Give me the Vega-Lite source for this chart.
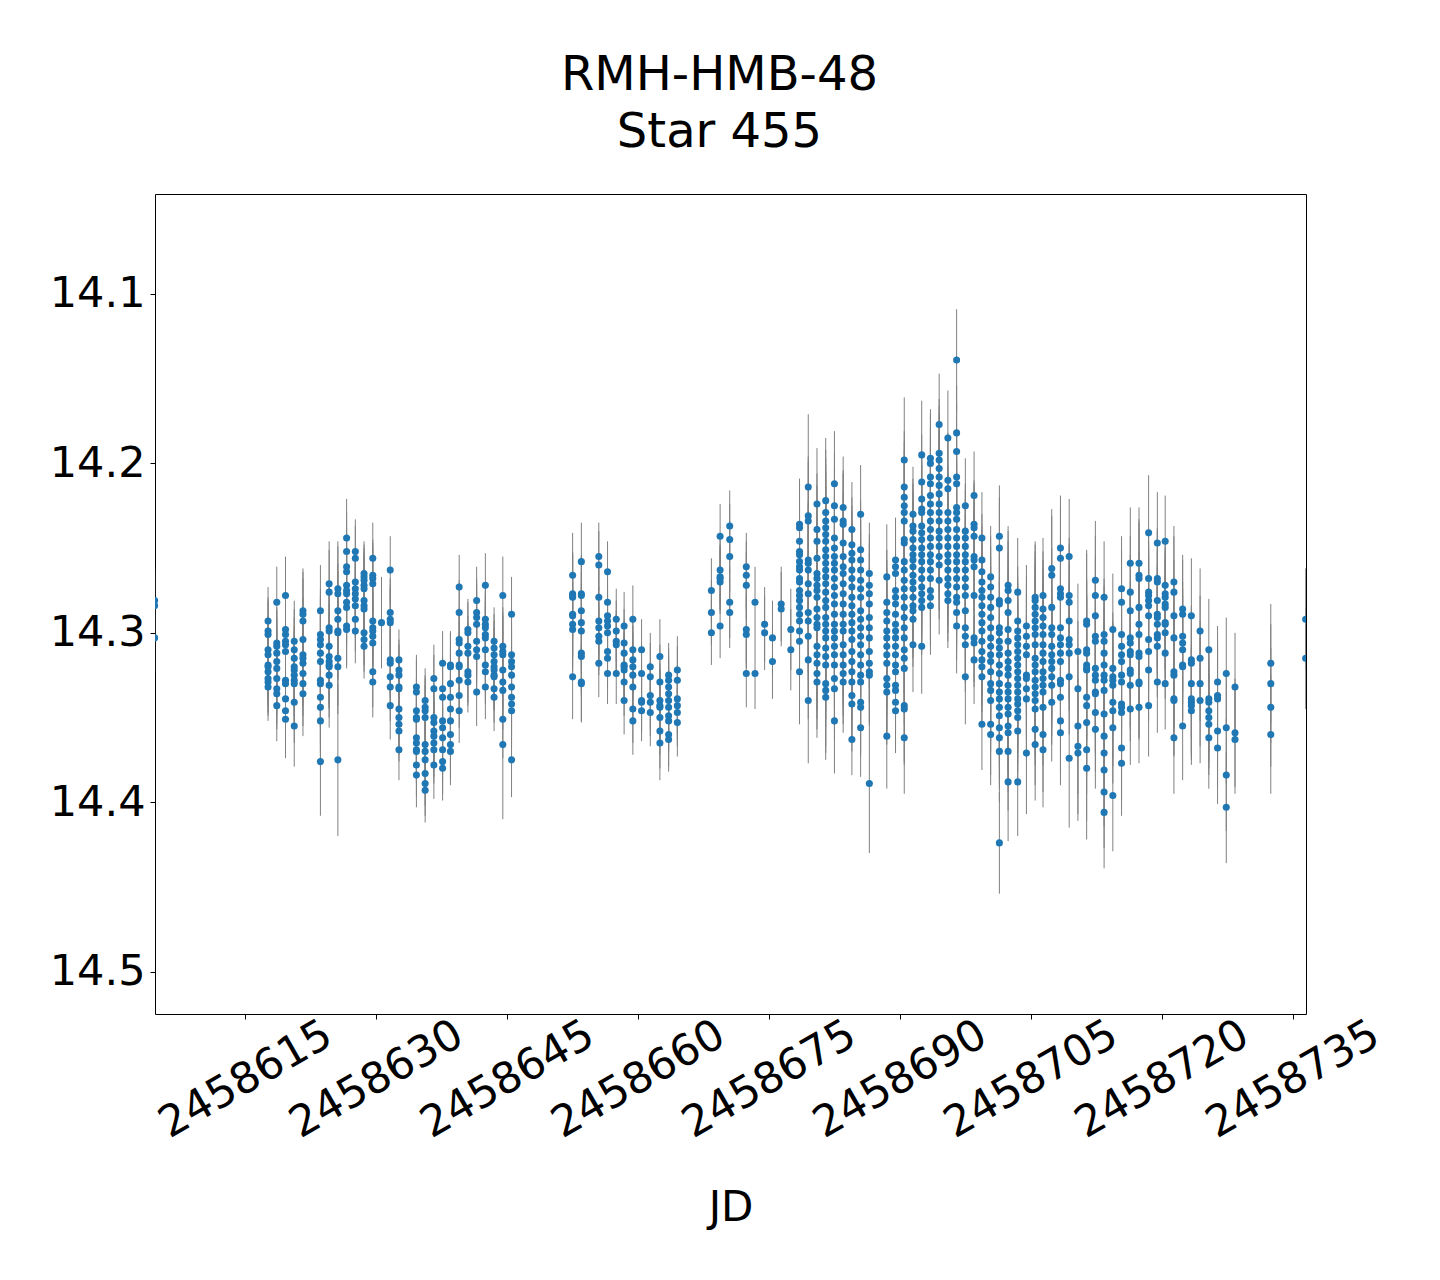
{
"$schema":"https://vega.github.io/schema/vega-lite/v6.json",
"width":1151,"height":820,
"autosize":{"type":"none"},
"padding":{"left":155,"top":194,"right":134,"bottom":266},
"background":"white",
"title":{"text":["RMH-HMB-48","Star 455"],"fontSize":48,"font":"DejaVu Sans","fontWeight":"normal","color":"black","anchor":"middle","frame":"group","dx":-11,"offset":-11,"baseline":"bottom","lineHeight":57},
"config":{"view":{"stroke":"black","strokeWidth":1},"axis":{"grid":false,"domain":false,"tickColor":"black","tickSize":5,"tickWidth":1,"labelColor":"black","labelFont":"DejaVu Sans","titleFont":"DejaVu Sans","labelFontSize":43,"titleFontSize":42,"titleFontWeight":"normal","titleColor":"black","labelLimit":500}},
"data":{"values":[
{"jd":2458604.6,"m":14.281,"e":0.02},{"jd":2458604.6,"m":14.284,"e":0.02},{"jd":2458604.6,"m":14.303,"e":0.02},
{"jd":2458617.6,"m":14.293,"e":0.02},{"jd":2458617.6,"m":14.299,"e":0.02},{"jd":2458617.6,"m":14.301,"e":0.02},{"jd":2458617.6,"m":14.31,"e":0.02},{"jd":2458617.6,"m":14.313,"e":0.02},{"jd":2458617.6,"m":14.319,"e":0.02},{"jd":2458617.6,"m":14.32,"e":0.02},{"jd":2458617.6,"m":14.323,"e":0.02},{"jd":2458617.6,"m":14.327,"e":0.02},{"jd":2458617.6,"m":14.329,"e":0.02},{"jd":2458617.6,"m":14.332,"e":0.02},
{"jd":2458618.6,"m":14.282,"e":0.021},{"jd":2458618.6,"m":14.306,"e":0.021},{"jd":2458618.6,"m":14.308,"e":0.021},{"jd":2458618.6,"m":14.312,"e":0.021},{"jd":2458618.6,"m":14.317,"e":0.021},{"jd":2458618.6,"m":14.321,"e":0.021},{"jd":2458618.6,"m":14.327,"e":0.021},{"jd":2458618.6,"m":14.333,"e":0.021},{"jd":2458618.6,"m":14.336,"e":0.021},{"jd":2458618.6,"m":14.343,"e":0.021},
{"jd":2458619.6,"m":14.278,"e":0.023},{"jd":2458619.6,"m":14.298,"e":0.023},{"jd":2458619.6,"m":14.301,"e":0.023},{"jd":2458619.6,"m":14.305,"e":0.023},{"jd":2458619.6,"m":14.307,"e":0.023},{"jd":2458619.6,"m":14.311,"e":0.023},{"jd":2458619.6,"m":14.328,"e":0.023},{"jd":2458619.6,"m":14.33,"e":0.023},{"jd":2458619.6,"m":14.339,"e":0.023},{"jd":2458619.6,"m":14.346,"e":0.023},{"jd":2458619.6,"m":14.351,"e":0.023},
{"jd":2458620.6,"m":14.305,"e":0.024},{"jd":2458620.6,"m":14.31,"e":0.024},{"jd":2458620.6,"m":14.315,"e":0.024},{"jd":2458620.6,"m":14.32,"e":0.024},{"jd":2458620.6,"m":14.322,"e":0.024},{"jd":2458620.6,"m":14.325,"e":0.024},{"jd":2458620.6,"m":14.328,"e":0.024},{"jd":2458620.6,"m":14.33,"e":0.024},{"jd":2458620.6,"m":14.341,"e":0.024},{"jd":2458620.6,"m":14.355,"e":0.024},
{"jd":2458621.6,"m":14.287,"e":0.025},{"jd":2458621.6,"m":14.289,"e":0.025},{"jd":2458621.6,"m":14.293,"e":0.025},{"jd":2458621.6,"m":14.304,"e":0.025},{"jd":2458621.6,"m":14.313,"e":0.025},{"jd":2458621.6,"m":14.315,"e":0.025},{"jd":2458621.6,"m":14.318,"e":0.025},{"jd":2458621.6,"m":14.324,"e":0.025},{"jd":2458621.6,"m":14.33,"e":0.025},{"jd":2458621.6,"m":14.336,"e":0.025},
{"jd":2458623.6,"m":14.287,"e":0.027},{"jd":2458623.6,"m":14.301,"e":0.027},{"jd":2458623.6,"m":14.304,"e":0.027},{"jd":2458623.6,"m":14.307,"e":0.027},{"jd":2458623.6,"m":14.312,"e":0.027},{"jd":2458623.6,"m":14.317,"e":0.027},{"jd":2458623.6,"m":14.328,"e":0.027},{"jd":2458623.6,"m":14.33,"e":0.027},{"jd":2458623.6,"m":14.338,"e":0.027},{"jd":2458623.6,"m":14.344,"e":0.027},{"jd":2458623.6,"m":14.352,"e":0.027},{"jd":2458623.6,"m":14.376,"e":0.032},
{"jd":2458624.6,"m":14.271,"e":0.025},{"jd":2458624.6,"m":14.276,"e":0.025},{"jd":2458624.6,"m":14.297,"e":0.025},{"jd":2458624.6,"m":14.299,"e":0.025},{"jd":2458624.6,"m":14.308,"e":0.025},{"jd":2458624.6,"m":14.314,"e":0.025},{"jd":2458624.6,"m":14.317,"e":0.025},{"jd":2458624.6,"m":14.319,"e":0.025},{"jd":2458624.6,"m":14.32,"e":0.025},{"jd":2458624.6,"m":14.325,"e":0.025},{"jd":2458624.6,"m":14.331,"e":0.025},
{"jd":2458625.6,"m":14.274,"e":0.028},{"jd":2458625.6,"m":14.277,"e":0.028},{"jd":2458625.6,"m":14.287,"e":0.028},{"jd":2458625.6,"m":14.292,"e":0.028},{"jd":2458625.6,"m":14.299,"e":0.028},{"jd":2458625.6,"m":14.3,"e":0.028},{"jd":2458625.6,"m":14.315,"e":0.028},{"jd":2458625.6,"m":14.32,"e":0.028},{"jd":2458625.6,"m":14.375,"e":0.045},
{"jd":2458626.6,"m":14.244,"e":0.023},{"jd":2458626.6,"m":14.252,"e":0.023},{"jd":2458626.6,"m":14.261,"e":0.023},{"jd":2458626.6,"m":14.264,"e":0.023},{"jd":2458626.6,"m":14.272,"e":0.023},{"jd":2458626.6,"m":14.275,"e":0.023},{"jd":2458626.6,"m":14.277,"e":0.023},{"jd":2458626.6,"m":14.282,"e":0.023},{"jd":2458626.6,"m":14.285,"e":0.023},{"jd":2458626.6,"m":14.296,"e":0.023},{"jd":2458626.6,"m":14.298,"e":0.023},
{"jd":2458627.6,"m":14.252,"e":0.019},{"jd":2458627.6,"m":14.256,"e":0.019},{"jd":2458627.6,"m":14.27,"e":0.019},{"jd":2458627.6,"m":14.274,"e":0.019},{"jd":2458627.6,"m":14.277,"e":0.019},{"jd":2458627.6,"m":14.28,"e":0.019},{"jd":2458627.6,"m":14.284,"e":0.019},{"jd":2458627.6,"m":14.292,"e":0.019},{"jd":2458627.6,"m":14.299,"e":0.019},
{"jd":2458628.6,"m":14.265,"e":0.019},{"jd":2458628.6,"m":14.267,"e":0.019},{"jd":2458628.6,"m":14.269,"e":0.019},{"jd":2458628.6,"m":14.272,"e":0.019},{"jd":2458628.6,"m":14.274,"e":0.019},{"jd":2458628.6,"m":14.281,"e":0.019},{"jd":2458628.6,"m":14.284,"e":0.019},{"jd":2458628.6,"m":14.286,"e":0.019},{"jd":2458628.6,"m":14.3,"e":0.019},{"jd":2458628.6,"m":14.304,"e":0.019},{"jd":2458628.6,"m":14.308,"e":0.019},
{"jd":2458629.6,"m":14.256,"e":0.021},{"jd":2458629.6,"m":14.266,"e":0.021},{"jd":2458629.6,"m":14.268,"e":0.021},{"jd":2458629.6,"m":14.271,"e":0.021},{"jd":2458629.6,"m":14.293,"e":0.021},{"jd":2458629.6,"m":14.297,"e":0.021},{"jd":2458629.6,"m":14.299,"e":0.021},{"jd":2458629.6,"m":14.302,"e":0.021},{"jd":2458629.6,"m":14.306,"e":0.021},{"jd":2458629.6,"m":14.323,"e":0.021},{"jd":2458629.6,"m":14.329,"e":0.021},
{"jd":2458630.6,"m":14.294,"e":0.027},
{"jd":2458631.6,"m":14.263,"e":0.02},{"jd":2458631.6,"m":14.288,"e":0.02},{"jd":2458631.6,"m":14.292,"e":0.02},{"jd":2458631.6,"m":14.294,"e":0.02},{"jd":2458631.6,"m":14.316,"e":0.02},{"jd":2458631.6,"m":14.318,"e":0.02},{"jd":2458631.6,"m":14.326,"e":0.02},{"jd":2458631.6,"m":14.332,"e":0.02},{"jd":2458631.6,"m":14.343,"e":0.02},
{"jd":2458632.6,"m":14.316,"e":0.018},{"jd":2458632.6,"m":14.322,"e":0.018},{"jd":2458632.6,"m":14.325,"e":0.018},{"jd":2458632.6,"m":14.332,"e":0.018},{"jd":2458632.6,"m":14.333,"e":0.018},{"jd":2458632.6,"m":14.345,"e":0.018},{"jd":2458632.6,"m":14.35,"e":0.018},{"jd":2458632.6,"m":14.354,"e":0.018},{"jd":2458632.6,"m":14.358,"e":0.018},{"jd":2458632.6,"m":14.369,"e":0.018},
{"jd":2458634.6,"m":14.332,"e":0.019},{"jd":2458634.6,"m":14.335,"e":0.019},{"jd":2458634.6,"m":14.346,"e":0.019},{"jd":2458634.6,"m":14.35,"e":0.019},{"jd":2458634.6,"m":14.351,"e":0.019},{"jd":2458634.6,"m":14.362,"e":0.019},{"jd":2458634.6,"m":14.365,"e":0.019},{"jd":2458634.6,"m":14.369,"e":0.019},{"jd":2458634.6,"m":14.37,"e":0.019},{"jd":2458634.6,"m":14.378,"e":0.019},{"jd":2458634.6,"m":14.384,"e":0.019},
{"jd":2458635.6,"m":14.34,"e":0.019},{"jd":2458635.6,"m":14.344,"e":0.019},{"jd":2458635.6,"m":14.346,"e":0.019},{"jd":2458635.6,"m":14.35,"e":0.019},{"jd":2458635.6,"m":14.366,"e":0.019},{"jd":2458635.6,"m":14.37,"e":0.019},{"jd":2458635.6,"m":14.375,"e":0.019},{"jd":2458635.6,"m":14.383,"e":0.019},{"jd":2458635.6,"m":14.389,"e":0.019},{"jd":2458635.6,"m":14.393,"e":0.019},
{"jd":2458636.6,"m":14.327,"e":0.02},{"jd":2458636.6,"m":14.333,"e":0.02},{"jd":2458636.6,"m":14.35,"e":0.02},{"jd":2458636.6,"m":14.353,"e":0.02},{"jd":2458636.6,"m":14.358,"e":0.02},{"jd":2458636.6,"m":14.361,"e":0.02},{"jd":2458636.6,"m":14.365,"e":0.02},{"jd":2458636.6,"m":14.369,"e":0.02},{"jd":2458636.6,"m":14.378,"e":0.02},
{"jd":2458637.6,"m":14.318,"e":0.019},{"jd":2458637.6,"m":14.333,"e":0.019},{"jd":2458637.6,"m":14.338,"e":0.019},{"jd":2458637.6,"m":14.352,"e":0.019},{"jd":2458637.6,"m":14.356,"e":0.019},{"jd":2458637.6,"m":14.362,"e":0.019},{"jd":2458637.6,"m":14.369,"e":0.019},{"jd":2458637.6,"m":14.376,"e":0.019},{"jd":2458637.6,"m":14.38,"e":0.019},
{"jd":2458638.5,"m":14.319,"e":0.02},{"jd":2458638.5,"m":14.32,"e":0.02},{"jd":2458638.5,"m":14.33,"e":0.02},{"jd":2458638.5,"m":14.338,"e":0.02},{"jd":2458638.5,"m":14.345,"e":0.02},{"jd":2458638.5,"m":14.352,"e":0.02},{"jd":2458638.5,"m":14.36,"e":0.02},{"jd":2458638.5,"m":14.366,"e":0.02},{"jd":2458638.5,"m":14.37,"e":0.02},
{"jd":2458639.5,"m":14.273,"e":0.019},{"jd":2458639.5,"m":14.288,"e":0.019},{"jd":2458639.5,"m":14.304,"e":0.019},{"jd":2458639.5,"m":14.306,"e":0.019},{"jd":2458639.5,"m":14.312,"e":0.019},{"jd":2458639.5,"m":14.319,"e":0.019},{"jd":2458639.5,"m":14.32,"e":0.019},{"jd":2458639.5,"m":14.328,"e":0.019},{"jd":2458639.5,"m":14.337,"e":0.019},{"jd":2458639.5,"m":14.346,"e":0.019},
{"jd":2458640.5,"m":14.298,"e":0.018},{"jd":2458640.5,"m":14.3,"e":0.018},{"jd":2458640.5,"m":14.308,"e":0.018},{"jd":2458640.5,"m":14.312,"e":0.018},{"jd":2458640.5,"m":14.323,"e":0.018},{"jd":2458640.5,"m":14.325,"e":0.018},{"jd":2458640.5,"m":14.329,"e":0.018},
{"jd":2458641.5,"m":14.281,"e":0.02},{"jd":2458641.5,"m":14.288,"e":0.02},{"jd":2458641.5,"m":14.291,"e":0.02},{"jd":2458641.5,"m":14.295,"e":0.02},{"jd":2458641.5,"m":14.305,"e":0.02},{"jd":2458641.5,"m":14.31,"e":0.02},{"jd":2458641.5,"m":14.314,"e":0.02},{"jd":2458641.5,"m":14.335,"e":0.02},
{"jd":2458642.5,"m":14.272,"e":0.019},{"jd":2458642.5,"m":14.292,"e":0.019},{"jd":2458642.5,"m":14.295,"e":0.019},{"jd":2458642.5,"m":14.297,"e":0.019},{"jd":2458642.5,"m":14.301,"e":0.019},{"jd":2458642.5,"m":14.303,"e":0.019},{"jd":2458642.5,"m":14.31,"e":0.019},{"jd":2458642.5,"m":14.319,"e":0.019},{"jd":2458642.5,"m":14.323,"e":0.019},{"jd":2458642.5,"m":14.332,"e":0.019},
{"jd":2458643.5,"m":14.305,"e":0.02},{"jd":2458643.5,"m":14.309,"e":0.02},{"jd":2458643.5,"m":14.313,"e":0.02},{"jd":2458643.5,"m":14.317,"e":0.02},{"jd":2458643.5,"m":14.32,"e":0.02},{"jd":2458643.5,"m":14.322,"e":0.02},{"jd":2458643.5,"m":14.325,"e":0.02},{"jd":2458643.5,"m":14.326,"e":0.02},{"jd":2458643.5,"m":14.333,"e":0.02},{"jd":2458643.5,"m":14.338,"e":0.02},
{"jd":2458644.5,"m":14.278,"e":0.023},{"jd":2458644.5,"m":14.308,"e":0.023},{"jd":2458644.5,"m":14.311,"e":0.023},{"jd":2458644.5,"m":14.313,"e":0.023},{"jd":2458644.5,"m":14.322,"e":0.023},{"jd":2458644.5,"m":14.329,"e":0.023},{"jd":2458644.5,"m":14.334,"e":0.023},{"jd":2458644.5,"m":14.351,"e":0.023},{"jd":2458644.5,"m":14.366,"e":0.044},
{"jd":2458645.5,"m":14.289,"e":0.022},{"jd":2458645.5,"m":14.313,"e":0.022},{"jd":2458645.5,"m":14.317,"e":0.022},{"jd":2458645.5,"m":14.32,"e":0.022},{"jd":2458645.5,"m":14.325,"e":0.022},{"jd":2458645.5,"m":14.332,"e":0.022},{"jd":2458645.5,"m":14.338,"e":0.022},{"jd":2458645.5,"m":14.342,"e":0.022},{"jd":2458645.5,"m":14.346,"e":0.022},{"jd":2458645.5,"m":14.375,"e":0.022},
{"jd":2458652.5,"m":14.266,"e":0.025},{"jd":2458652.5,"m":14.277,"e":0.025},{"jd":2458652.5,"m":14.278,"e":0.025},{"jd":2458652.5,"m":14.279,"e":0.025},{"jd":2458652.5,"m":14.289,"e":0.025},{"jd":2458652.5,"m":14.29,"e":0.025},{"jd":2458652.5,"m":14.295,"e":0.025},{"jd":2458652.5,"m":14.298,"e":0.025},{"jd":2458652.5,"m":14.326,"e":0.025},
{"jd":2458653.5,"m":14.258,"e":0.023},{"jd":2458653.5,"m":14.277,"e":0.023},{"jd":2458653.5,"m":14.278,"e":0.023},{"jd":2458653.5,"m":14.287,"e":0.023},{"jd":2458653.5,"m":14.294,"e":0.023},{"jd":2458653.5,"m":14.299,"e":0.023},{"jd":2458653.5,"m":14.312,"e":0.023},{"jd":2458653.5,"m":14.314,"e":0.023},{"jd":2458653.5,"m":14.329,"e":0.023},{"jd":2458653.5,"m":14.33,"e":0.023},
{"jd":2458655.5,"m":14.255,"e":0.02},{"jd":2458655.5,"m":14.26,"e":0.02},{"jd":2458655.5,"m":14.279,"e":0.02},{"jd":2458655.5,"m":14.293,"e":0.02},{"jd":2458655.5,"m":14.297,"e":0.02},{"jd":2458655.5,"m":14.302,"e":0.02},{"jd":2458655.5,"m":14.305,"e":0.02},{"jd":2458655.5,"m":14.318,"e":0.02},
{"jd":2458656.5,"m":14.264,"e":0.018},{"jd":2458656.5,"m":14.282,"e":0.018},{"jd":2458656.5,"m":14.29,"e":0.018},{"jd":2458656.5,"m":14.293,"e":0.018},{"jd":2458656.5,"m":14.296,"e":0.018},{"jd":2458656.5,"m":14.3,"e":0.018},{"jd":2458656.5,"m":14.311,"e":0.018},{"jd":2458656.5,"m":14.315,"e":0.018},{"jd":2458656.5,"m":14.324,"e":0.018},
{"jd":2458657.5,"m":14.292,"e":0.018},{"jd":2458657.5,"m":14.299,"e":0.018},{"jd":2458657.5,"m":14.305,"e":0.018},{"jd":2458657.5,"m":14.307,"e":0.018},{"jd":2458657.5,"m":14.324,"e":0.018},
{"jd":2458658.4,"m":14.296,"e":0.02},{"jd":2458658.4,"m":14.306,"e":0.02},{"jd":2458658.4,"m":14.312,"e":0.02},{"jd":2458658.4,"m":14.319,"e":0.02},{"jd":2458658.4,"m":14.32,"e":0.02},{"jd":2458658.4,"m":14.322,"e":0.02},{"jd":2458658.4,"m":14.329,"e":0.02},{"jd":2458658.4,"m":14.34,"e":0.02},
{"jd":2458659.4,"m":14.292,"e":0.02},{"jd":2458659.4,"m":14.31,"e":0.02},{"jd":2458659.4,"m":14.316,"e":0.02},{"jd":2458659.4,"m":14.32,"e":0.02},{"jd":2458659.4,"m":14.325,"e":0.02},{"jd":2458659.4,"m":14.332,"e":0.02},{"jd":2458659.4,"m":14.345,"e":0.02},{"jd":2458659.4,"m":14.352,"e":0.02},
{"jd":2458660.4,"m":14.31,"e":0.018},{"jd":2458660.4,"m":14.324,"e":0.018},{"jd":2458660.4,"m":14.34,"e":0.018},{"jd":2458660.4,"m":14.341,"e":0.018},{"jd":2458660.4,"m":14.346,"e":0.018},
{"jd":2458661.4,"m":14.32,"e":0.02},{"jd":2458661.4,"m":14.326,"e":0.02},{"jd":2458661.4,"m":14.337,"e":0.02},{"jd":2458661.4,"m":14.341,"e":0.02},{"jd":2458661.4,"m":14.347,"e":0.02},
{"jd":2458662.5,"m":14.314,"e":0.022},{"jd":2458662.5,"m":14.329,"e":0.022},{"jd":2458662.5,"m":14.34,"e":0.022},{"jd":2458662.5,"m":14.343,"e":0.022},{"jd":2458662.5,"m":14.344,"e":0.022},{"jd":2458662.5,"m":14.35,"e":0.022},{"jd":2458662.5,"m":14.358,"e":0.022},{"jd":2458662.5,"m":14.365,"e":0.022},
{"jd":2458663.5,"m":14.325,"e":0.019},{"jd":2458663.5,"m":14.328,"e":0.019},{"jd":2458663.5,"m":14.332,"e":0.019},{"jd":2458663.5,"m":14.336,"e":0.019},{"jd":2458663.5,"m":14.34,"e":0.019},{"jd":2458663.5,"m":14.344,"e":0.019},{"jd":2458663.5,"m":14.349,"e":0.019},{"jd":2458663.5,"m":14.352,"e":0.019},{"jd":2458663.5,"m":14.36,"e":0.019},{"jd":2458663.5,"m":14.363,"e":0.019},
{"jd":2458664.5,"m":14.322,"e":0.02},{"jd":2458664.5,"m":14.328,"e":0.02},{"jd":2458664.5,"m":14.339,"e":0.02},{"jd":2458664.5,"m":14.343,"e":0.02},{"jd":2458664.5,"m":14.347,"e":0.02},{"jd":2458664.5,"m":14.353,"e":0.02},
{"jd":2458668.4,"m":14.275,"e":0.019},{"jd":2458668.4,"m":14.288,"e":0.019},{"jd":2458668.4,"m":14.3,"e":0.019},
{"jd":2458669.4,"m":14.243,"e":0.019},{"jd":2458669.4,"m":14.263,"e":0.019},{"jd":2458669.4,"m":14.267,"e":0.019},{"jd":2458669.4,"m":14.268,"e":0.019},{"jd":2458669.4,"m":14.27,"e":0.019},{"jd":2458669.4,"m":14.296,"e":0.019},
{"jd":2458670.5,"m":14.237,"e":0.021},{"jd":2458670.5,"m":14.245,"e":0.021},{"jd":2458670.5,"m":14.255,"e":0.021},{"jd":2458670.5,"m":14.282,"e":0.021},{"jd":2458670.5,"m":14.288,"e":0.021},
{"jd":2458672.4,"m":14.261,"e":0.02},{"jd":2458672.4,"m":14.266,"e":0.02},{"jd":2458672.4,"m":14.272,"e":0.02},{"jd":2458672.4,"m":14.298,"e":0.02},{"jd":2458672.4,"m":14.301,"e":0.02},{"jd":2458672.4,"m":14.324,"e":0.02},
{"jd":2458673.4,"m":14.282,"e":0.021},{"jd":2458673.4,"m":14.324,"e":0.021},
{"jd":2458674.5,"m":14.295,"e":0.022},{"jd":2458674.5,"m":14.3,"e":0.022},
{"jd":2458675.4,"m":14.303,"e":0.022},{"jd":2458675.4,"m":14.317,"e":0.022},
{"jd":2458676.4,"m":14.283,"e":0.022},{"jd":2458676.4,"m":14.286,"e":0.022},
{"jd":2458677.5,"m":14.298,"e":0.024},{"jd":2458677.5,"m":14.31,"e":0.024},
{"jd":2458678.5,"m":14.236,"e":0.027},{"jd":2458678.5,"m":14.238,"e":0.027},{"jd":2458678.5,"m":14.246,"e":0.027},{"jd":2458678.5,"m":14.252,"e":0.027},{"jd":2458678.5,"m":14.254,"e":0.027},{"jd":2458678.5,"m":14.258,"e":0.027},{"jd":2458678.5,"m":14.261,"e":0.027},{"jd":2458678.5,"m":14.263,"e":0.027},{"jd":2458678.5,"m":14.268,"e":0.027},{"jd":2458678.5,"m":14.27,"e":0.027},{"jd":2458678.5,"m":14.275,"e":0.027},{"jd":2458678.5,"m":14.278,"e":0.027},{"jd":2458678.5,"m":14.281,"e":0.027},{"jd":2458678.5,"m":14.285,"e":0.027},{"jd":2458678.5,"m":14.289,"e":0.027},{"jd":2458678.5,"m":14.293,"e":0.027},{"jd":2458678.5,"m":14.299,"e":0.027},{"jd":2458678.5,"m":14.305,"e":0.027},{"jd":2458678.5,"m":14.323,"e":0.031},
{"jd":2458679.5,"m":14.214,"e":0.043},{"jd":2458679.5,"m":14.231,"e":0.035},{"jd":2458679.5,"m":14.234,"e":0.035},{"jd":2458679.5,"m":14.257,"e":0.035},{"jd":2458679.5,"m":14.259,"e":0.035},{"jd":2458679.5,"m":14.263,"e":0.035},{"jd":2458679.5,"m":14.271,"e":0.035},{"jd":2458679.5,"m":14.277,"e":0.035},{"jd":2458679.5,"m":14.288,"e":0.035},{"jd":2458679.5,"m":14.293,"e":0.035},{"jd":2458679.5,"m":14.302,"e":0.035},{"jd":2458679.5,"m":14.316,"e":0.035},{"jd":2458679.5,"m":14.34,"e":0.037},
{"jd":2458680.5,"m":14.224,"e":0.033},{"jd":2458680.5,"m":14.239,"e":0.033},{"jd":2458680.5,"m":14.246,"e":0.033},{"jd":2458680.5,"m":14.256,"e":0.033},{"jd":2458680.5,"m":14.265,"e":0.033},{"jd":2458680.5,"m":14.268,"e":0.033},{"jd":2458680.5,"m":14.272,"e":0.033},{"jd":2458680.5,"m":14.275,"e":0.033},{"jd":2458680.5,"m":14.279,"e":0.033},{"jd":2458680.5,"m":14.286,"e":0.033},{"jd":2458680.5,"m":14.291,"e":0.033},{"jd":2458680.5,"m":14.295,"e":0.033},{"jd":2458680.5,"m":14.297,"e":0.033},{"jd":2458680.5,"m":14.308,"e":0.033},{"jd":2458680.5,"m":14.313,"e":0.033},{"jd":2458680.5,"m":14.318,"e":0.033},{"jd":2458680.5,"m":14.324,"e":0.033},{"jd":2458680.5,"m":14.329,"e":0.033},
{"jd":2458681.5,"m":14.222,"e":0.037},{"jd":2458681.5,"m":14.229,"e":0.037},{"jd":2458681.5,"m":14.234,"e":0.037},{"jd":2458681.5,"m":14.238,"e":0.037},{"jd":2458681.5,"m":14.242,"e":0.037},{"jd":2458681.5,"m":14.246,"e":0.037},{"jd":2458681.5,"m":14.251,"e":0.037},{"jd":2458681.5,"m":14.255,"e":0.037},{"jd":2458681.5,"m":14.259,"e":0.037},{"jd":2458681.5,"m":14.263,"e":0.037},{"jd":2458681.5,"m":14.267,"e":0.037},{"jd":2458681.5,"m":14.271,"e":0.037},{"jd":2458681.5,"m":14.276,"e":0.037},{"jd":2458681.5,"m":14.281,"e":0.037},{"jd":2458681.5,"m":14.285,"e":0.037},{"jd":2458681.5,"m":14.291,"e":0.037},{"jd":2458681.5,"m":14.295,"e":0.037},{"jd":2458681.5,"m":14.299,"e":0.037},{"jd":2458681.5,"m":14.303,"e":0.037},{"jd":2458681.5,"m":14.309,"e":0.037},{"jd":2458681.5,"m":14.314,"e":0.037},{"jd":2458681.5,"m":14.319,"e":0.037},{"jd":2458681.5,"m":14.33,"e":0.037},{"jd":2458681.5,"m":14.334,"e":0.037},{"jd":2458681.5,"m":14.338,"e":0.037},
{"jd":2458682.5,"m":14.212,"e":0.031},{"jd":2458682.5,"m":14.225,"e":0.031},{"jd":2458682.5,"m":14.233,"e":0.031},{"jd":2458682.5,"m":14.244,"e":0.031},{"jd":2458682.5,"m":14.25,"e":0.031},{"jd":2458682.5,"m":14.255,"e":0.031},{"jd":2458682.5,"m":14.259,"e":0.031},{"jd":2458682.5,"m":14.263,"e":0.031},{"jd":2458682.5,"m":14.268,"e":0.031},{"jd":2458682.5,"m":14.273,"e":0.031},{"jd":2458682.5,"m":14.278,"e":0.031},{"jd":2458682.5,"m":14.283,"e":0.031},{"jd":2458682.5,"m":14.289,"e":0.031},{"jd":2458682.5,"m":14.295,"e":0.031},{"jd":2458682.5,"m":14.299,"e":0.031},{"jd":2458682.5,"m":14.303,"e":0.031},{"jd":2458682.5,"m":14.308,"e":0.031},{"jd":2458682.5,"m":14.313,"e":0.031},{"jd":2458682.5,"m":14.319,"e":0.031},{"jd":2458682.5,"m":14.327,"e":0.031},{"jd":2458682.5,"m":14.333,"e":0.031},{"jd":2458682.5,"m":14.352,"e":0.031},
{"jd":2458683.5,"m":14.226,"e":0.03},{"jd":2458683.5,"m":14.234,"e":0.03},{"jd":2458683.5,"m":14.236,"e":0.03},{"jd":2458683.5,"m":14.247,"e":0.03},{"jd":2458683.5,"m":14.255,"e":0.03},{"jd":2458683.5,"m":14.261,"e":0.03},{"jd":2458683.5,"m":14.265,"e":0.03},{"jd":2458683.5,"m":14.271,"e":0.03},{"jd":2458683.5,"m":14.277,"e":0.03},{"jd":2458683.5,"m":14.283,"e":0.03},{"jd":2458683.5,"m":14.289,"e":0.03},{"jd":2458683.5,"m":14.295,"e":0.03},{"jd":2458683.5,"m":14.299,"e":0.03},{"jd":2458683.5,"m":14.307,"e":0.03},{"jd":2458683.5,"m":14.313,"e":0.03},{"jd":2458683.5,"m":14.319,"e":0.03},{"jd":2458683.5,"m":14.324,"e":0.03},{"jd":2458683.5,"m":14.329,"e":0.03},
{"jd":2458684.5,"m":14.239,"e":0.028},{"jd":2458684.5,"m":14.248,"e":0.028},{"jd":2458684.5,"m":14.253,"e":0.028},{"jd":2458684.5,"m":14.257,"e":0.028},{"jd":2458684.5,"m":14.263,"e":0.028},{"jd":2458684.5,"m":14.268,"e":0.028},{"jd":2458684.5,"m":14.273,"e":0.028},{"jd":2458684.5,"m":14.279,"e":0.028},{"jd":2458684.5,"m":14.284,"e":0.028},{"jd":2458684.5,"m":14.289,"e":0.028},{"jd":2458684.5,"m":14.294,"e":0.028},{"jd":2458684.5,"m":14.299,"e":0.028},{"jd":2458684.5,"m":14.304,"e":0.028},{"jd":2458684.5,"m":14.311,"e":0.028},{"jd":2458684.5,"m":14.317,"e":0.028},{"jd":2458684.5,"m":14.323,"e":0.028},{"jd":2458684.5,"m":14.329,"e":0.028},{"jd":2458684.5,"m":14.337,"e":0.028},{"jd":2458684.5,"m":14.342,"e":0.028},{"jd":2458684.5,"m":14.363,"e":0.021},
{"jd":2458685.5,"m":14.23,"e":0.029},{"jd":2458685.5,"m":14.251,"e":0.029},{"jd":2458685.5,"m":14.257,"e":0.029},{"jd":2458685.5,"m":14.263,"e":0.029},{"jd":2458685.5,"m":14.269,"e":0.029},{"jd":2458685.5,"m":14.274,"e":0.029},{"jd":2458685.5,"m":14.279,"e":0.029},{"jd":2458685.5,"m":14.287,"e":0.029},{"jd":2458685.5,"m":14.292,"e":0.029},{"jd":2458685.5,"m":14.297,"e":0.029},{"jd":2458685.5,"m":14.302,"e":0.029},{"jd":2458685.5,"m":14.307,"e":0.029},{"jd":2458685.5,"m":14.313,"e":0.029},{"jd":2458685.5,"m":14.319,"e":0.029},{"jd":2458685.5,"m":14.325,"e":0.029},{"jd":2458685.5,"m":14.329,"e":0.029},{"jd":2458685.5,"m":14.341,"e":0.029},{"jd":2458685.5,"m":14.344,"e":0.029},{"jd":2458685.5,"m":14.356,"e":0.029},
{"jd":2458686.5,"m":14.265,"e":0.03},{"jd":2458686.5,"m":14.272,"e":0.03},{"jd":2458686.5,"m":14.277,"e":0.03},{"jd":2458686.5,"m":14.283,"e":0.03},{"jd":2458686.5,"m":14.291,"e":0.03},{"jd":2458686.5,"m":14.297,"e":0.03},{"jd":2458686.5,"m":14.303,"e":0.03},{"jd":2458686.5,"m":14.311,"e":0.03},{"jd":2458686.5,"m":14.318,"e":0.03},{"jd":2458686.5,"m":14.323,"e":0.03},{"jd":2458686.5,"m":14.325,"e":0.03},{"jd":2458686.5,"m":14.389,"e":0.041},
{"jd":2458688.5,"m":14.267,"e":0.031},{"jd":2458688.5,"m":14.282,"e":0.031},{"jd":2458688.5,"m":14.288,"e":0.031},{"jd":2458688.5,"m":14.293,"e":0.031},{"jd":2458688.5,"m":14.299,"e":0.031},{"jd":2458688.5,"m":14.303,"e":0.031},{"jd":2458688.5,"m":14.308,"e":0.031},{"jd":2458688.5,"m":14.313,"e":0.031},{"jd":2458688.5,"m":14.318,"e":0.031},{"jd":2458688.5,"m":14.327,"e":0.031},{"jd":2458688.5,"m":14.331,"e":0.031},{"jd":2458688.5,"m":14.335,"e":0.031},{"jd":2458688.5,"m":14.361,"e":0.031},
{"jd":2458689.5,"m":14.257,"e":0.025},{"jd":2458689.5,"m":14.261,"e":0.025},{"jd":2458689.5,"m":14.265,"e":0.025},{"jd":2458689.5,"m":14.275,"e":0.025},{"jd":2458689.5,"m":14.279,"e":0.025},{"jd":2458689.5,"m":14.283,"e":0.025},{"jd":2458689.5,"m":14.289,"e":0.025},{"jd":2458689.5,"m":14.295,"e":0.025},{"jd":2458689.5,"m":14.299,"e":0.025},{"jd":2458689.5,"m":14.303,"e":0.025},{"jd":2458689.5,"m":14.308,"e":0.025},{"jd":2458689.5,"m":14.313,"e":0.025},{"jd":2458689.5,"m":14.319,"e":0.025},{"jd":2458689.5,"m":14.323,"e":0.025},{"jd":2458689.5,"m":14.331,"e":0.025},{"jd":2458689.5,"m":14.334,"e":0.025},{"jd":2458689.5,"m":14.341,"e":0.025},{"jd":2458689.5,"m":14.346,"e":0.025},
{"jd":2458690.5,"m":14.198,"e":0.037},{"jd":2458690.5,"m":14.214,"e":0.033},{"jd":2458690.5,"m":14.22,"e":0.033},{"jd":2458690.5,"m":14.225,"e":0.033},{"jd":2458690.5,"m":14.229,"e":0.033},{"jd":2458690.5,"m":14.234,"e":0.033},{"jd":2458690.5,"m":14.245,"e":0.033},{"jd":2458690.5,"m":14.247,"e":0.033},{"jd":2458690.5,"m":14.258,"e":0.033},{"jd":2458690.5,"m":14.263,"e":0.033},{"jd":2458690.5,"m":14.269,"e":0.033},{"jd":2458690.5,"m":14.274,"e":0.033},{"jd":2458690.5,"m":14.279,"e":0.033},{"jd":2458690.5,"m":14.285,"e":0.033},{"jd":2458690.5,"m":14.291,"e":0.033},{"jd":2458690.5,"m":14.297,"e":0.033},{"jd":2458690.5,"m":14.303,"e":0.033},{"jd":2458690.5,"m":14.31,"e":0.033},{"jd":2458690.5,"m":14.315,"e":0.033},{"jd":2458690.5,"m":14.321,"e":0.033},{"jd":2458690.5,"m":14.343,"e":0.033},{"jd":2458690.5,"m":14.345,"e":0.033},{"jd":2458690.5,"m":14.362,"e":0.033},
{"jd":2458691.5,"m":14.23,"e":0.028},{"jd":2458691.5,"m":14.237,"e":0.028},{"jd":2458691.5,"m":14.24,"e":0.028},{"jd":2458691.5,"m":14.245,"e":0.028},{"jd":2458691.5,"m":14.25,"e":0.028},{"jd":2458691.5,"m":14.254,"e":0.028},{"jd":2458691.5,"m":14.257,"e":0.028},{"jd":2458691.5,"m":14.261,"e":0.028},{"jd":2458691.5,"m":14.266,"e":0.028},{"jd":2458691.5,"m":14.27,"e":0.028},{"jd":2458691.5,"m":14.274,"e":0.028},{"jd":2458691.5,"m":14.279,"e":0.028},{"jd":2458691.5,"m":14.284,"e":0.028},{"jd":2458691.5,"m":14.287,"e":0.028},{"jd":2458691.5,"m":14.292,"e":0.028},{"jd":2458691.5,"m":14.307,"e":0.028},
{"jd":2458692.5,"m":14.195,"e":0.032},{"jd":2458692.5,"m":14.211,"e":0.028},{"jd":2458692.5,"m":14.221,"e":0.028},{"jd":2458692.5,"m":14.227,"e":0.028},{"jd":2458692.5,"m":14.229,"e":0.028},{"jd":2458692.5,"m":14.237,"e":0.028},{"jd":2458692.5,"m":14.241,"e":0.028},{"jd":2458692.5,"m":14.245,"e":0.028},{"jd":2458692.5,"m":14.25,"e":0.028},{"jd":2458692.5,"m":14.254,"e":0.028},{"jd":2458692.5,"m":14.258,"e":0.028},{"jd":2458692.5,"m":14.263,"e":0.028},{"jd":2458692.5,"m":14.268,"e":0.028},{"jd":2458692.5,"m":14.273,"e":0.028},{"jd":2458692.5,"m":14.277,"e":0.028},{"jd":2458692.5,"m":14.281,"e":0.028},{"jd":2458692.5,"m":14.285,"e":0.028},{"jd":2458692.5,"m":14.308,"e":0.028},
{"jd":2458693.5,"m":14.197,"e":0.029},{"jd":2458693.5,"m":14.2,"e":0.029},{"jd":2458693.5,"m":14.208,"e":0.029},{"jd":2458693.5,"m":14.212,"e":0.029},{"jd":2458693.5,"m":14.219,"e":0.029},{"jd":2458693.5,"m":14.224,"e":0.029},{"jd":2458693.5,"m":14.229,"e":0.029},{"jd":2458693.5,"m":14.234,"e":0.029},{"jd":2458693.5,"m":14.239,"e":0.029},{"jd":2458693.5,"m":14.244,"e":0.029},{"jd":2458693.5,"m":14.249,"e":0.029},{"jd":2458693.5,"m":14.254,"e":0.029},{"jd":2458693.5,"m":14.258,"e":0.029},{"jd":2458693.5,"m":14.263,"e":0.029},{"jd":2458693.5,"m":14.268,"e":0.029},{"jd":2458693.5,"m":14.275,"e":0.029},{"jd":2458693.5,"m":14.279,"e":0.029},{"jd":2458693.5,"m":14.284,"e":0.029},
{"jd":2458694.5,"m":14.177,"e":0.03},{"jd":2458694.5,"m":14.194,"e":0.032},{"jd":2458694.5,"m":14.198,"e":0.032},{"jd":2458694.5,"m":14.203,"e":0.032},{"jd":2458694.5,"m":14.208,"e":0.032},{"jd":2458694.5,"m":14.213,"e":0.032},{"jd":2458694.5,"m":14.218,"e":0.032},{"jd":2458694.5,"m":14.224,"e":0.032},{"jd":2458694.5,"m":14.229,"e":0.032},{"jd":2458694.5,"m":14.234,"e":0.032},{"jd":2458694.5,"m":14.24,"e":0.032},{"jd":2458694.5,"m":14.244,"e":0.032},{"jd":2458694.5,"m":14.249,"e":0.032},{"jd":2458694.5,"m":14.255,"e":0.032},{"jd":2458694.5,"m":14.26,"e":0.032},{"jd":2458694.5,"m":14.269,"e":0.032},
{"jd":2458695.5,"m":14.185,"e":0.028},{"jd":2458695.5,"m":14.21,"e":0.028},{"jd":2458695.5,"m":14.215,"e":0.028},{"jd":2458695.5,"m":14.229,"e":0.028},{"jd":2458695.5,"m":14.234,"e":0.028},{"jd":2458695.5,"m":14.239,"e":0.028},{"jd":2458695.5,"m":14.244,"e":0.028},{"jd":2458695.5,"m":14.249,"e":0.028},{"jd":2458695.5,"m":14.254,"e":0.028},{"jd":2458695.5,"m":14.258,"e":0.028},{"jd":2458695.5,"m":14.263,"e":0.028},{"jd":2458695.5,"m":14.268,"e":0.028},{"jd":2458695.5,"m":14.272,"e":0.028},{"jd":2458695.5,"m":14.277,"e":0.028},{"jd":2458695.5,"m":14.281,"e":0.028},
{"jd":2458696.5,"m":14.139,"e":0.03},{"jd":2458696.5,"m":14.182,"e":0.028},{"jd":2458696.5,"m":14.193,"e":0.028},{"jd":2458696.5,"m":14.208,"e":0.028},{"jd":2458696.5,"m":14.212,"e":0.028},{"jd":2458696.5,"m":14.226,"e":0.028},{"jd":2458696.5,"m":14.229,"e":0.028},{"jd":2458696.5,"m":14.233,"e":0.028},{"jd":2458696.5,"m":14.239,"e":0.028},{"jd":2458696.5,"m":14.244,"e":0.028},{"jd":2458696.5,"m":14.249,"e":0.028},{"jd":2458696.5,"m":14.254,"e":0.028},{"jd":2458696.5,"m":14.258,"e":0.028},{"jd":2458696.5,"m":14.263,"e":0.028},{"jd":2458696.5,"m":14.268,"e":0.028},{"jd":2458696.5,"m":14.273,"e":0.028},{"jd":2458696.5,"m":14.279,"e":0.028},{"jd":2458696.5,"m":14.282,"e":0.028},{"jd":2458696.5,"m":14.288,"e":0.028},{"jd":2458696.5,"m":14.296,"e":0.028},
{"jd":2458697.5,"m":14.225,"e":0.028},{"jd":2458697.5,"m":14.24,"e":0.028},{"jd":2458697.5,"m":14.244,"e":0.028},{"jd":2458697.5,"m":14.249,"e":0.028},{"jd":2458697.5,"m":14.254,"e":0.028},{"jd":2458697.5,"m":14.258,"e":0.028},{"jd":2458697.5,"m":14.263,"e":0.028},{"jd":2458697.5,"m":14.268,"e":0.028},{"jd":2458697.5,"m":14.273,"e":0.028},{"jd":2458697.5,"m":14.278,"e":0.028},{"jd":2458697.5,"m":14.287,"e":0.028},{"jd":2458697.5,"m":14.297,"e":0.028},{"jd":2458697.5,"m":14.302,"e":0.028},{"jd":2458697.5,"m":14.307,"e":0.028},{"jd":2458697.5,"m":14.326,"e":0.028},
{"jd":2458698.5,"m":14.219,"e":0.026},{"jd":2458698.5,"m":14.236,"e":0.026},{"jd":2458698.5,"m":14.238,"e":0.026},{"jd":2458698.5,"m":14.243,"e":0.026},{"jd":2458698.5,"m":14.255,"e":0.026},{"jd":2458698.5,"m":14.257,"e":0.026},{"jd":2458698.5,"m":14.261,"e":0.026},{"jd":2458698.5,"m":14.278,"e":0.026},{"jd":2458698.5,"m":14.303,"e":0.026},{"jd":2458698.5,"m":14.306,"e":0.026},{"jd":2458698.5,"m":14.316,"e":0.026},
{"jd":2458699.4,"m":14.244,"e":0.027},{"jd":2458699.4,"m":14.257,"e":0.027},{"jd":2458699.4,"m":14.264,"e":0.027},{"jd":2458699.4,"m":14.27,"e":0.027},{"jd":2458699.4,"m":14.275,"e":0.027},{"jd":2458699.4,"m":14.279,"e":0.027},{"jd":2458699.4,"m":14.284,"e":0.027},{"jd":2458699.4,"m":14.289,"e":0.027},{"jd":2458699.4,"m":14.294,"e":0.027},{"jd":2458699.4,"m":14.299,"e":0.027},{"jd":2458699.4,"m":14.305,"e":0.027},{"jd":2458699.4,"m":14.311,"e":0.027},{"jd":2458699.4,"m":14.316,"e":0.027},{"jd":2458699.4,"m":14.32,"e":0.027},{"jd":2458699.4,"m":14.326,"e":0.027},{"jd":2458699.4,"m":14.354,"e":0.027},
{"jd":2458700.4,"m":14.267,"e":0.03},{"jd":2458700.4,"m":14.273,"e":0.03},{"jd":2458700.4,"m":14.279,"e":0.03},{"jd":2458700.4,"m":14.285,"e":0.03},{"jd":2458700.4,"m":14.291,"e":0.03},{"jd":2458700.4,"m":14.297,"e":0.03},{"jd":2458700.4,"m":14.303,"e":0.03},{"jd":2458700.4,"m":14.308,"e":0.03},{"jd":2458700.4,"m":14.313,"e":0.03},{"jd":2458700.4,"m":14.317,"e":0.03},{"jd":2458700.4,"m":14.323,"e":0.03},{"jd":2458700.4,"m":14.33,"e":0.03},{"jd":2458700.4,"m":14.334,"e":0.03},{"jd":2458700.4,"m":14.34,"e":0.03},{"jd":2458700.4,"m":14.354,"e":0.03},{"jd":2458700.4,"m":14.36,"e":0.03},
{"jd":2458701.4,"m":14.243,"e":0.03},{"jd":2458701.4,"m":14.25,"e":0.03},{"jd":2458701.4,"m":14.281,"e":0.03},{"jd":2458701.4,"m":14.283,"e":0.03},{"jd":2458701.4,"m":14.297,"e":0.03},{"jd":2458701.4,"m":14.3,"e":0.03},{"jd":2458701.4,"m":14.305,"e":0.03},{"jd":2458701.4,"m":14.309,"e":0.03},{"jd":2458701.4,"m":14.313,"e":0.03},{"jd":2458701.4,"m":14.319,"e":0.03},{"jd":2458701.4,"m":14.324,"e":0.03},{"jd":2458701.4,"m":14.33,"e":0.03},{"jd":2458701.4,"m":14.335,"e":0.03},{"jd":2458701.4,"m":14.339,"e":0.03},{"jd":2458701.4,"m":14.344,"e":0.03},{"jd":2458701.4,"m":14.349,"e":0.03},{"jd":2458701.4,"m":14.356,"e":0.03},{"jd":2458701.4,"m":14.362,"e":0.03},{"jd":2458701.4,"m":14.37,"e":0.03},{"jd":2458701.4,"m":14.424,"e":0.03},
{"jd":2458702.4,"m":14.272,"e":0.035},{"jd":2458702.4,"m":14.275,"e":0.035},{"jd":2458702.4,"m":14.281,"e":0.035},{"jd":2458702.4,"m":14.288,"e":0.035},{"jd":2458702.4,"m":14.298,"e":0.035},{"jd":2458702.4,"m":14.305,"e":0.035},{"jd":2458702.4,"m":14.312,"e":0.035},{"jd":2458702.4,"m":14.317,"e":0.035},{"jd":2458702.4,"m":14.321,"e":0.035},{"jd":2458702.4,"m":14.325,"e":0.035},{"jd":2458702.4,"m":14.331,"e":0.035},{"jd":2458702.4,"m":14.335,"e":0.035},{"jd":2458702.4,"m":14.339,"e":0.035},{"jd":2458702.4,"m":14.344,"e":0.035},{"jd":2458702.4,"m":14.348,"e":0.035},{"jd":2458702.4,"m":14.355,"e":0.035},{"jd":2458702.4,"m":14.359,"e":0.035},{"jd":2458702.4,"m":14.37,"e":0.035},{"jd":2458702.4,"m":14.388,"e":0.035},
{"jd":2458703.5,"m":14.276,"e":0.032},{"jd":2458703.5,"m":14.293,"e":0.032},{"jd":2458703.5,"m":14.299,"e":0.032},{"jd":2458703.5,"m":14.303,"e":0.032},{"jd":2458703.5,"m":14.307,"e":0.032},{"jd":2458703.5,"m":14.311,"e":0.032},{"jd":2458703.5,"m":14.315,"e":0.032},{"jd":2458703.5,"m":14.319,"e":0.032},{"jd":2458703.5,"m":14.323,"e":0.032},{"jd":2458703.5,"m":14.327,"e":0.032},{"jd":2458703.5,"m":14.331,"e":0.032},{"jd":2458703.5,"m":14.335,"e":0.032},{"jd":2458703.5,"m":14.339,"e":0.032},{"jd":2458703.5,"m":14.342,"e":0.032},{"jd":2458703.5,"m":14.346,"e":0.032},{"jd":2458703.5,"m":14.35,"e":0.032},{"jd":2458703.5,"m":14.358,"e":0.032},{"jd":2458703.5,"m":14.388,"e":0.032},
{"jd":2458704.5,"m":14.296,"e":0.036},{"jd":2458704.5,"m":14.302,"e":0.036},{"jd":2458704.5,"m":14.308,"e":0.036},{"jd":2458704.5,"m":14.313,"e":0.036},{"jd":2458704.5,"m":14.325,"e":0.036},{"jd":2458704.5,"m":14.327,"e":0.036},{"jd":2458704.5,"m":14.333,"e":0.036},{"jd":2458704.5,"m":14.339,"e":0.036},{"jd":2458704.5,"m":14.371,"e":0.036},
{"jd":2458705.5,"m":14.279,"e":0.033},{"jd":2458705.5,"m":14.281,"e":0.033},{"jd":2458705.5,"m":14.285,"e":0.033},{"jd":2458705.5,"m":14.289,"e":0.033},{"jd":2458705.5,"m":14.293,"e":0.033},{"jd":2458705.5,"m":14.297,"e":0.033},{"jd":2458705.5,"m":14.301,"e":0.033},{"jd":2458705.5,"m":14.307,"e":0.033},{"jd":2458705.5,"m":14.315,"e":0.033},{"jd":2458705.5,"m":14.319,"e":0.033},{"jd":2458705.5,"m":14.323,"e":0.033},{"jd":2458705.5,"m":14.328,"e":0.033},{"jd":2458705.5,"m":14.332,"e":0.033},{"jd":2458705.5,"m":14.336,"e":0.033},{"jd":2458705.5,"m":14.34,"e":0.033},{"jd":2458705.5,"m":14.345,"e":0.033},{"jd":2458705.5,"m":14.357,"e":0.033},{"jd":2458705.5,"m":14.366,"e":0.033},
{"jd":2458706.4,"m":14.278,"e":0.034},{"jd":2458706.4,"m":14.286,"e":0.034},{"jd":2458706.4,"m":14.291,"e":0.034},{"jd":2458706.4,"m":14.296,"e":0.034},{"jd":2458706.4,"m":14.301,"e":0.034},{"jd":2458706.4,"m":14.307,"e":0.034},{"jd":2458706.4,"m":14.312,"e":0.034},{"jd":2458706.4,"m":14.317,"e":0.034},{"jd":2458706.4,"m":14.323,"e":0.034},{"jd":2458706.4,"m":14.327,"e":0.034},{"jd":2458706.4,"m":14.331,"e":0.034},{"jd":2458706.4,"m":14.335,"e":0.034},{"jd":2458706.4,"m":14.344,"e":0.034},{"jd":2458706.4,"m":14.36,"e":0.034},{"jd":2458706.4,"m":14.369,"e":0.034},
{"jd":2458707.4,"m":14.262,"e":0.035},{"jd":2458707.4,"m":14.266,"e":0.035},{"jd":2458707.4,"m":14.285,"e":0.035},{"jd":2458707.4,"m":14.297,"e":0.035},{"jd":2458707.4,"m":14.301,"e":0.035},{"jd":2458707.4,"m":14.308,"e":0.035},{"jd":2458707.4,"m":14.313,"e":0.035},{"jd":2458707.4,"m":14.317,"e":0.035},{"jd":2458707.4,"m":14.321,"e":0.035},{"jd":2458707.4,"m":14.326,"e":0.035},{"jd":2458707.4,"m":14.331,"e":0.035},{"jd":2458707.4,"m":14.341,"e":0.035},
{"jd":2458708.4,"m":14.25,"e":0.031},{"jd":2458708.4,"m":14.256,"e":0.031},{"jd":2458708.4,"m":14.274,"e":0.031},{"jd":2458708.4,"m":14.277,"e":0.031},{"jd":2458708.4,"m":14.279,"e":0.031},{"jd":2458708.4,"m":14.297,"e":0.031},{"jd":2458708.4,"m":14.303,"e":0.031},{"jd":2458708.4,"m":14.307,"e":0.031},{"jd":2458708.4,"m":14.312,"e":0.031},{"jd":2458708.4,"m":14.317,"e":0.031},{"jd":2458708.4,"m":14.328,"e":0.031},{"jd":2458708.4,"m":14.33,"e":0.031},{"jd":2458708.4,"m":14.338,"e":0.031},{"jd":2458708.4,"m":14.352,"e":0.031},{"jd":2458708.4,"m":14.359,"e":0.031},
{"jd":2458709.4,"m":14.255,"e":0.034},{"jd":2458709.4,"m":14.278,"e":0.034},{"jd":2458709.4,"m":14.282,"e":0.034},{"jd":2458709.4,"m":14.293,"e":0.034},{"jd":2458709.4,"m":14.304,"e":0.034},{"jd":2458709.4,"m":14.307,"e":0.034},{"jd":2458709.4,"m":14.312,"e":0.034},{"jd":2458709.4,"m":14.326,"e":0.034},{"jd":2458709.4,"m":14.374,"e":0.041},
{"jd":2458710.4,"m":14.311,"e":0.04},{"jd":2458710.4,"m":14.333,"e":0.04},{"jd":2458710.4,"m":14.355,"e":0.04},{"jd":2458710.4,"m":14.367,"e":0.04},{"jd":2458710.4,"m":14.371,"e":0.04},
{"jd":2458711.4,"m":14.293,"e":0.042},{"jd":2458711.4,"m":14.295,"e":0.042},{"jd":2458711.4,"m":14.31,"e":0.042},{"jd":2458711.4,"m":14.312,"e":0.042},{"jd":2458711.4,"m":14.319,"e":0.042},{"jd":2458711.4,"m":14.321,"e":0.042},{"jd":2458711.4,"m":14.322,"e":0.042},{"jd":2458711.4,"m":14.338,"e":0.042},{"jd":2458711.4,"m":14.343,"e":0.042},{"jd":2458711.4,"m":14.353,"e":0.042},{"jd":2458711.4,"m":14.369,"e":0.042},{"jd":2458711.4,"m":14.38,"e":0.042},
{"jd":2458712.4,"m":14.269,"e":0.035},{"jd":2458712.4,"m":14.278,"e":0.035},{"jd":2458712.4,"m":14.29,"e":0.035},{"jd":2458712.4,"m":14.302,"e":0.035},{"jd":2458712.4,"m":14.305,"e":0.035},{"jd":2458712.4,"m":14.321,"e":0.035},{"jd":2458712.4,"m":14.325,"e":0.035},{"jd":2458712.4,"m":14.328,"e":0.035},{"jd":2458712.4,"m":14.335,"e":0.035},{"jd":2458712.4,"m":14.336,"e":0.035},{"jd":2458712.4,"m":14.347,"e":0.035},{"jd":2458712.4,"m":14.357,"e":0.035},
{"jd":2458713.4,"m":14.279,"e":0.033},{"jd":2458713.4,"m":14.301,"e":0.033},{"jd":2458713.4,"m":14.305,"e":0.033},{"jd":2458713.4,"m":14.312,"e":0.033},{"jd":2458713.4,"m":14.319,"e":0.033},{"jd":2458713.4,"m":14.325,"e":0.033},{"jd":2458713.4,"m":14.328,"e":0.033},{"jd":2458713.4,"m":14.334,"e":0.033},{"jd":2458713.4,"m":14.348,"e":0.033},{"jd":2458713.4,"m":14.361,"e":0.033},{"jd":2458713.4,"m":14.371,"e":0.033},{"jd":2458713.4,"m":14.381,"e":0.033},{"jd":2458713.4,"m":14.394,"e":0.033},{"jd":2458713.4,"m":14.406,"e":0.033},
{"jd":2458714.4,"m":14.298,"e":0.033},{"jd":2458714.4,"m":14.321,"e":0.033},{"jd":2458714.4,"m":14.326,"e":0.033},{"jd":2458714.4,"m":14.328,"e":0.033},{"jd":2458714.4,"m":14.331,"e":0.033},{"jd":2458714.4,"m":14.341,"e":0.033},{"jd":2458714.4,"m":14.346,"e":0.033},{"jd":2458714.4,"m":14.356,"e":0.033},{"jd":2458714.4,"m":14.396,"e":0.033},
{"jd":2458715.4,"m":14.274,"e":0.031},{"jd":2458715.4,"m":14.282,"e":0.031},{"jd":2458715.4,"m":14.301,"e":0.031},{"jd":2458715.4,"m":14.308,"e":0.031},{"jd":2458715.4,"m":14.313,"e":0.031},{"jd":2458715.4,"m":14.317,"e":0.031},{"jd":2458715.4,"m":14.325,"e":0.031},{"jd":2458715.4,"m":14.329,"e":0.031},{"jd":2458715.4,"m":14.342,"e":0.031},{"jd":2458715.4,"m":14.344,"e":0.031},{"jd":2458715.4,"m":14.347,"e":0.031},{"jd":2458715.4,"m":14.368,"e":0.031},{"jd":2458715.4,"m":14.377,"e":0.031},
{"jd":2458716.4,"m":14.259,"e":0.033},{"jd":2458716.4,"m":14.276,"e":0.033},{"jd":2458716.4,"m":14.287,"e":0.033},{"jd":2458716.4,"m":14.303,"e":0.033},{"jd":2458716.4,"m":14.306,"e":0.033},{"jd":2458716.4,"m":14.311,"e":0.033},{"jd":2458716.4,"m":14.313,"e":0.033},{"jd":2458716.4,"m":14.322,"e":0.033},{"jd":2458716.4,"m":14.324,"e":0.033},{"jd":2458716.4,"m":14.331,"e":0.033},{"jd":2458716.4,"m":14.345,"e":0.033},
{"jd":2458717.4,"m":14.259,"e":0.033},{"jd":2458717.4,"m":14.266,"e":0.033},{"jd":2458717.4,"m":14.268,"e":0.033},{"jd":2458717.4,"m":14.285,"e":0.033},{"jd":2458717.4,"m":14.295,"e":0.033},{"jd":2458717.4,"m":14.301,"e":0.033},{"jd":2458717.4,"m":14.312,"e":0.033},{"jd":2458717.4,"m":14.314,"e":0.033},{"jd":2458717.4,"m":14.329,"e":0.033},{"jd":2458717.4,"m":14.33,"e":0.033},{"jd":2458717.4,"m":14.344,"e":0.033},
{"jd":2458718.5,"m":14.241,"e":0.034},{"jd":2458718.5,"m":14.268,"e":0.03},{"jd":2458718.5,"m":14.276,"e":0.03},{"jd":2458718.5,"m":14.278,"e":0.03},{"jd":2458718.5,"m":14.281,"e":0.03},{"jd":2458718.5,"m":14.284,"e":0.03},{"jd":2458718.5,"m":14.29,"e":0.03},{"jd":2458718.5,"m":14.304,"e":0.03},{"jd":2458718.5,"m":14.311,"e":0.03},{"jd":2458718.5,"m":14.322,"e":0.03},{"jd":2458718.5,"m":14.343,"e":0.03},
{"jd":2458719.5,"m":14.247,"e":0.03},{"jd":2458719.5,"m":14.268,"e":0.03},{"jd":2458719.5,"m":14.27,"e":0.03},{"jd":2458719.5,"m":14.281,"e":0.03},{"jd":2458719.5,"m":14.289,"e":0.03},{"jd":2458719.5,"m":14.291,"e":0.03},{"jd":2458719.5,"m":14.295,"e":0.03},{"jd":2458719.5,"m":14.301,"e":0.03},{"jd":2458719.5,"m":14.303,"e":0.03},{"jd":2458719.5,"m":14.308,"e":0.03},{"jd":2458719.5,"m":14.329,"e":0.03},
{"jd":2458720.4,"m":14.246,"e":0.027},{"jd":2458720.4,"m":14.272,"e":0.027},{"jd":2458720.4,"m":14.277,"e":0.027},{"jd":2458720.4,"m":14.279,"e":0.027},{"jd":2458720.4,"m":14.283,"e":0.027},{"jd":2458720.4,"m":14.285,"e":0.027},{"jd":2458720.4,"m":14.294,"e":0.027},{"jd":2458720.4,"m":14.295,"e":0.027},{"jd":2458720.4,"m":14.3,"e":0.027},{"jd":2458720.4,"m":14.312,"e":0.027},{"jd":2458720.4,"m":14.33,"e":0.027},
{"jd":2458721.4,"m":14.27,"e":0.033},{"jd":2458721.4,"m":14.276,"e":0.033},{"jd":2458721.4,"m":14.29,"e":0.033},{"jd":2458721.4,"m":14.303,"e":0.033},{"jd":2458721.4,"m":14.323,"e":0.033},{"jd":2458721.4,"m":14.325,"e":0.033},{"jd":2458721.4,"m":14.339,"e":0.033},{"jd":2458721.4,"m":14.34,"e":0.033},{"jd":2458721.4,"m":14.362,"e":0.033},
{"jd":2458722.4,"m":14.286,"e":0.032},{"jd":2458722.4,"m":14.289,"e":0.032},{"jd":2458722.4,"m":14.302,"e":0.032},{"jd":2458722.4,"m":14.306,"e":0.032},{"jd":2458722.4,"m":14.31,"e":0.032},{"jd":2458722.4,"m":14.319,"e":0.032},{"jd":2458722.4,"m":14.32,"e":0.032},{"jd":2458722.4,"m":14.355,"e":0.032},
{"jd":2458723.4,"m":14.29,"e":0.034},{"jd":2458723.4,"m":14.316,"e":0.032},{"jd":2458723.4,"m":14.318,"e":0.032},{"jd":2458723.4,"m":14.33,"e":0.032},{"jd":2458723.4,"m":14.339,"e":0.032},{"jd":2458723.4,"m":14.341,"e":0.032},{"jd":2458723.4,"m":14.343,"e":0.032},{"jd":2458723.4,"m":14.346,"e":0.032},
{"jd":2458724.4,"m":14.299,"e":0.037},{"jd":2458724.4,"m":14.315,"e":0.037},{"jd":2458724.4,"m":14.33,"e":0.037},{"jd":2458724.4,"m":14.34,"e":0.037},
{"jd":2458725.4,"m":14.31,"e":0.03},{"jd":2458725.4,"m":14.339,"e":0.03},{"jd":2458725.4,"m":14.341,"e":0.03},{"jd":2458725.4,"m":14.346,"e":0.03},{"jd":2458725.4,"m":14.35,"e":0.03},{"jd":2458725.4,"m":14.354,"e":0.03},{"jd":2458725.4,"m":14.362,"e":0.03},
{"jd":2458726.4,"m":14.329,"e":0.033},{"jd":2458726.4,"m":14.337,"e":0.033},{"jd":2458726.4,"m":14.339,"e":0.033},{"jd":2458726.4,"m":14.358,"e":0.033},{"jd":2458726.4,"m":14.368,"e":0.033},
{"jd":2458727.4,"m":14.324,"e":0.033},{"jd":2458727.4,"m":14.356,"e":0.033},{"jd":2458727.4,"m":14.384,"e":0.033},{"jd":2458727.4,"m":14.403,"e":0.033},
{"jd":2458728.4,"m":14.332,"e":0.032},{"jd":2458728.4,"m":14.359,"e":0.032},{"jd":2458728.4,"m":14.363,"e":0.032},
{"jd":2458732.5,"m":14.318,"e":0.035},{"jd":2458732.5,"m":14.33,"e":0.035},{"jd":2458732.5,"m":14.344,"e":0.035},{"jd":2458732.5,"m":14.36,"e":0.035},
{"jd":2458736.5,"m":14.292,"e":0.03},{"jd":2458736.5,"m":14.315,"e":0.03}
]},
"encoding":{
"x":{"field":"jd","type":"quantitative","scale":{"domain":[2458604.645,2458736.535],"nice":false,"zero":false},"axis":{"values":[2458615,2458630,2458645,2458660,2458675,2458690,2458705,2458720,2458735],"format":"d","labelAngle":-30,"labelAlign":"center","labelBaseline":"middle","labelPadding":60,"labelOverlap":false,"labelFlush":false,"labelBound":false,"title":"JD","titleY":206,"titleBaseline":"alphabetic"}},
"y":{"field":"m","type":"quantitative","scale":{"domain":[14.041,14.525],"reverse":true,"nice":false,"zero":false},"axis":{"values":[14.1,14.2,14.3,14.4,14.5],"format":".1f","title":null,"labelPadding":5}}
},
"layer":[
{"mark":{"type":"errorbar","color":"#808080","thickness":1,"clip":true},"encoding":{"yError":{"field":"e"}}},
{"mark":{"type":"circle","color":"#1f77b4","size":50,"opacity":1,"clip":true}}
]
}
